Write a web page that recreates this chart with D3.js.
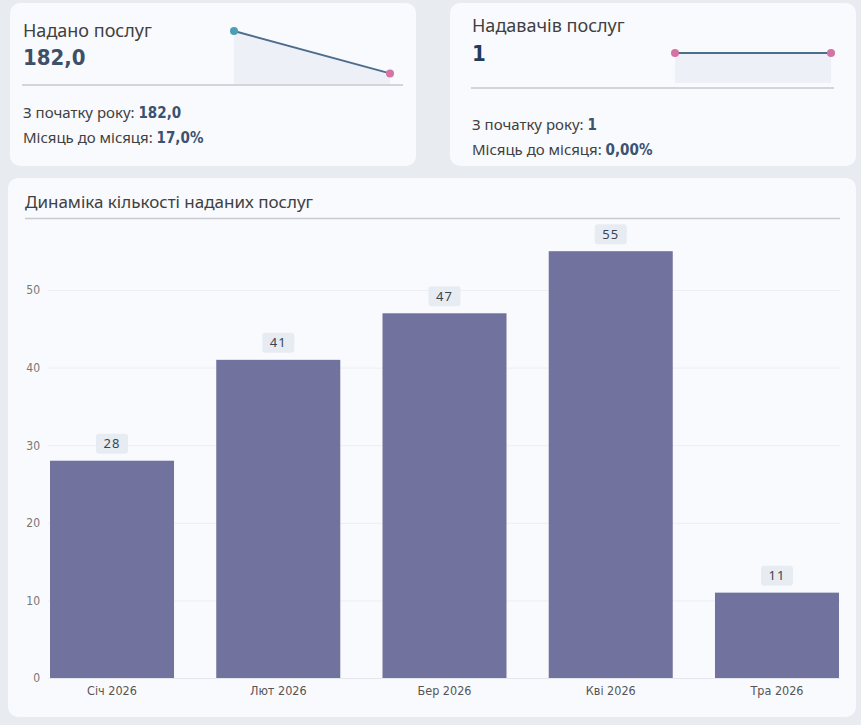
<!DOCTYPE html>
<html>
<head>
<meta charset="utf-8">
<script src="https://cdn.jsdelivr.net/npm/d3@7"></script>
<style>
  body { margin: 0; background: #e8ebef; }
  svg { display: block; }
</style>
</head>
<body>
<div id="chart"></div>
<script>
// data
var months = ["Січ 2026", "Лют 2026", "Бер 2026", "Кві 2026", "Тра 2026"];
var services = [28, 41, 47, 55, 11];
var yTicks = [0, 10, 20, 30, 40, 50];

var sparkServices = [55, 11];
var sparkProviders = [1, 1];

var chartTitle = "Динаміка кількості наданих послуг";

var svgWidth = 861;
var svgHeight = 725;

var svg = d3.select("#chart")
  .append("svg")
  .attr("width", svgWidth)
  .attr("height", svgHeight);

var font = "'Noto Sans', 'Open Sans', sans-serif";
var numFont = "'DejaVu Sans Condensed', 'DejaVu Sans', sans-serif";
var cardFill = "#f9fafd";

// cards
function card(x, y, w, h) {
  svg.append("rect")
    .attr("x", x).attr("y", y)
    .attr("width", w).attr("height", h)
    .attr("rx", 10)
    .attr("fill", cardFill);
}
card(10, 3, 406, 163);
card(450, 3, 406, 163);
card(8, 178, 848, 539);

// KPI card helper
function kpi(opts) {
  var g = svg.append("g");

  // sparkline
  var sx = d3.scalePoint().domain(d3.range(opts.spark.length)).range(opts.sparkX);
  var sy = d3.scaleLinear().domain([0, opts.sparkMax]).range(opts.sparkY);

  var area = d3.area()
    .x(function(d, i) { return sx(i); })
    .y0(sy(0))
    .y1(function(d) { return sy(d); });
  var line = d3.line()
    .x(function(d, i) { return sx(i); })
    .y(function(d) { return sy(d); });

  g.append("path").datum(opts.spark)
    .attr("d", area)
    .attr("fill", "#edf0f6");
  g.append("path").datum(opts.spark)
    .attr("d", line)
    .attr("fill", "none")
    .attr("stroke", "#4e6d8c")
    .attr("stroke-width", 2);
  g.selectAll("circle").data(opts.spark).enter()
    .append("circle")
    .attr("cx", function(d, i) { return sx(i); })
    .attr("cy", function(d) { return sy(d); })
    .attr("r", 4)
    .attr("fill", function(d, i) { return opts.dotColors[i]; });

  // separator
  g.append("line")
    .attr("x1", opts.sepX[0]).attr("x2", opts.sepX[1])
    .attr("y1", opts.sepY).attr("y2", opts.sepY)
    .attr("stroke", "#c6c9ce")
    .attr("stroke-width", 1.5);

  g.append("text")
    .attr("x", opts.x).attr("y", opts.titleY)
    .attr("font-family", font)
    .attr("font-size", 18)
    .attr("fill", "#404040")
    .text(opts.title);

  g.append("text")
    .attr("x", opts.x).attr("y", opts.valueY)
    .attr("font-family", numFont)
    .attr("font-weight", "bold")
    .attr("font-size", 22)
    .attr("fill", opts.valueColor)
    .text(opts.value);

  var l1 = g.append("text")
    .attr("x", opts.x).attr("y", opts.line1Y)
    .attr("font-family", font)
    .attr("font-size", 15)
    .attr("fill", "#404040");
  l1.append("tspan").text("З початку року: ");
  l1.append("tspan")
    .attr("font-family", numFont)
    .attr("font-weight", "bold")
    .attr("fill", "#3b5270")
    .text(opts.ytd);

  var l2 = g.append("text")
    .attr("x", opts.x).attr("y", opts.line2Y)
    .attr("font-family", font)
    .attr("font-size", 15)
    .attr("fill", "#404040");
  l2.append("tspan").text("Місяць до місяця: ");
  l2.append("tspan")
    .attr("font-family", numFont)
    .attr("font-weight", "bold")
    .attr("fill", "#3b5270")
    .text(opts.mom);
}

kpi({
  x: 23, title: "Надано послуг", titleY: 37,
  value: "182,0", valueY: 65, valueColor: "#3d5068",
  ytd: "182,0", mom: "17,0%", line1Y: 118, line2Y: 143,
  spark: sparkServices, sparkMax: 55, sparkX: [234, 390], sparkY: [84, 31],
  dotColors: ["#4a9fb5", "#d474a5"],
  sepX: [22, 403], sepY: 85
});

kpi({
  x: 472, title: "Надавачів послуг", titleY: 32,
  value: "1", valueY: 61, valueColor: "#213b5c",
  ytd: "1", mom: "0,00%", line1Y: 130, line2Y: 155,
  spark: sparkProviders, sparkMax: 1, sparkX: [675, 831], sparkY: [83, 53],
  dotColors: ["#d474a5", "#d474a5"],
  sepX: [471, 834], sepY: 88
});

// bar chart
svg.append("text")
  .attr("x", 25).attr("y", 208)
  .attr("font-family", font)
  .attr("font-size", 17)
  .attr("fill", "#404040")
  .text(chartTitle);

svg.append("line")
  .attr("x1", 25).attr("x2", 840)
  .attr("y1", 218.5).attr("y2", 218.5)
  .attr("stroke", "#c6c9ce")
  .attr("stroke-width", 1.5);

var x = d3.scaleBand()
  .domain(months)
  .range([50, 839])
  .paddingInner(0.254)
  .paddingOuter(0);

var y = d3.scaleLinear()
  .domain([0, 50])
  .range([678, 290]);

// gridlines
svg.append("g")
  .selectAll("line")
  .data(yTicks)
  .enter()
  .append("line")
  .attr("x1", 48).attr("x2", 840)
  .attr("y1", function(d) { return y(d) + 0.5; })
  .attr("y2", function(d) { return y(d) + 0.5; })
  .attr("stroke", "#eceef2")
  .attr("stroke-width", 1);

// y axis
var yAxis = svg.append("g")
  .attr("transform", "translate(40,0)")
  .call(d3.axisLeft(y).tickValues(yTicks).tickSize(0).tickPadding(0));
yAxis.select(".domain").remove();
yAxis.selectAll("text")
  .attr("font-family", numFont)
  .attr("font-size", 12)
  .attr("fill", "#777");

// bars
svg.append("g")
  .selectAll("rect")
  .data(services)
  .enter()
  .append("rect")
  .attr("x", function(d, i) { return x(months[i]); })
  .attr("y", function(d) { return y(d); })
  .attr("width", x.bandwidth())
  .attr("height", function(d) { return y(0) - y(d); })
  .attr("fill", "#72729f");

// x axis
var xAxis = svg.append("g")
  .attr("transform", "translate(0," + y(0) + ")")
  .call(d3.axisBottom(x).tickSize(0).tickPadding(8));
xAxis.select(".domain")
  .attr("stroke", "#e3e6ec");
xAxis.selectAll("text")
  .attr("font-family", numFont)
  .attr("font-size", 12.5)
  .attr("fill", "#555");

// value labels
var labels = svg.append("g")
  .selectAll("g")
  .data(services)
  .enter()
  .append("g")
  .attr("transform", function(d, i) {
    return "translate(" + (x(months[i]) + x.bandwidth() / 2) + "," + (y(d) - 17) + ")";
  });

labels.append("rect")
  .attr("x", -16).attr("y", -10)
  .attr("width", 32).attr("height", 20)
  .attr("rx", 3)
  .attr("fill", "#e7ecf3");

labels.append("text")
  .attr("text-anchor", "middle")
  .attr("dy", "0.35em")
  .attr("font-family", font)
  .attr("font-size", 13)
  .attr("letter-spacing", 1)
  .attr("fill", "#3b4450")
  .text(function(d) { return d; });
</script>
</body>
</html>
